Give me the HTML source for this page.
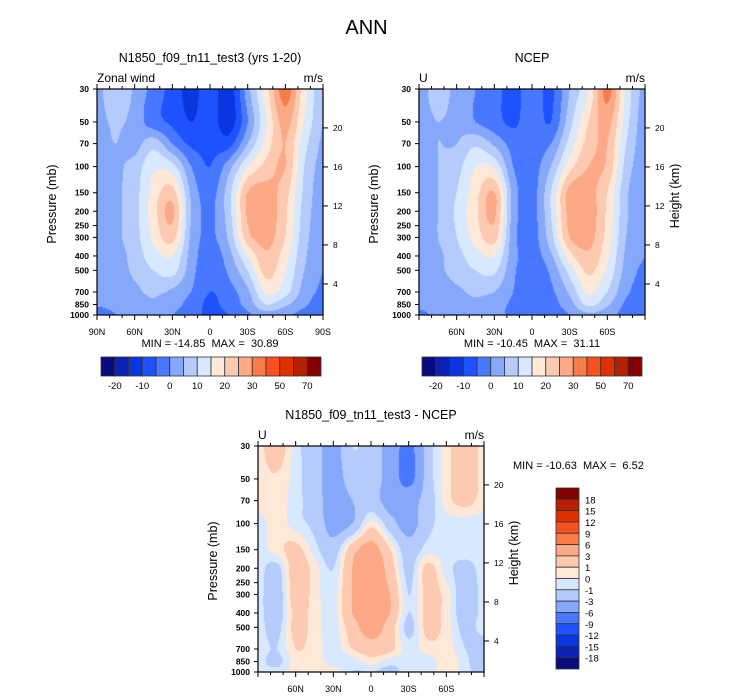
<!DOCTYPE html>
<html><head><meta charset="utf-8"><style>
body{margin:0;background:#fff;width:733px;height:696px;overflow:hidden;font-family:"Liberation Sans",sans-serif;}
#root{position:relative;width:733px;height:696px;}
.t{position:absolute;white-space:nowrap;color:#000;}
canvas{position:absolute;}
</style></head><body><div id="root">
<div class="t" style="left:0;width:733px;text-align:center;top:17px;font-size:20px;">ANN</div>
<svg id="ov" width="733" height="696" style="position:absolute;left:0;top:0;z-index:2"></svg>
</div>
<script>
// ---------- data ----------
const lats=["90N","75N","60N","45N","30N","15N","0","15S","30S","45S","60S","75S","90S"];
const pLevels=[30,50,70,100,150,200,300,400,500,700,850,1000];
const modelU=[
[3,10,4,-2,-7,-12,-7,-13,3,18,33,17,6],
[3,6,3,-3,-6,-10,-7,-13,0,15,27,15,5],
[3,5,3,8,0,-6,-6,-7,5,17,25,12,4],
[2,4,7,14,12,0,-5,3,15,22,25,10,3],
[2,4,8,17,22,4,-2,8,25,27,22,9,2],
[2,4,8,18,26,5,-1,8,26,28,21,8,2],
[2,4,8,16,22,4,-1,6,23,27,20,7,2],
[2,3,7,13,15,3,-3,3,15,24,17,6,1],
[2,3,6,10,12,2,-4,1,10,22,15,5,0],
[1,3,4,6,4,0,-5,-2,4,16,12,3,-1],
[1,2,3,4,2,-2,-6,-3,2,10,6,1,-3],
[-5,0,1,1,0,-3,-6,-5,-1,3,1,-2,-4]];
const ncepU=[
[4,6,4,0,-3,-7,-2,-6,5,15,32,14,3],
[4,5,4,0,-3,-6,-2,-5,8,20,27,12,2],
[4,5,5,9,4,-2,-2,0,12,22,25,10,2],
[3,5,8,15,14,0,-2,5,18,25,24,8,2],
[3,5,10,18,25,3,-2,10,27,27,20,6,1],
[3,5,11,19,26,3,-2,10,27,28,19,6,1],
[3,5,10,17,22,2,-2,8,25,27,18,5,0],
[3,4,8,13,15,2,-2,4,18,24,16,4,0],
[3,4,7,10,11,1,-3,1,12,21,14,3,-1],
[2,3,4,6,5,0,-3,-1,6,16,10,1,-2],
[1,2,3,4,2,-1,-4,-2,3,11,6,-1,-3],
[-1,1,2,2,1,-1,-4,-3,0,4,2,-2,-3]];
const diffU=[
[0.5,2,-0.5,-2,-4,-1,-2,-4,-7,-2,0.5,2,0.5],
[0.5,0.8,-0.5,-2,-4,-2,-2,-4,-7,-2,0.5,2,0.5],
[0.5,0.5,-0.5,-2,-4,-3,-2,-4,-4,-2,0.5,1.5,0.5],
[-0.5,0.5,-0.5,-1.5,-4,-3,0.5,-2,-4,-1.5,-0.5,-0.5,-0.5],
[-0.5,0.5,1.5,-0.5,-2,2,4,1,-2,-0.5,-0.5,-0.5,-0.5],
[-0.5,-1.5,2,0.5,-1,3,5,2,-1.5,1.5,-0.5,-1.5,-0.5],
[-0.5,-2,2,0.5,-0.5,3,4,3,-1,1.5,0.5,-2,-0.5],
[-0.5,-2,1.5,0.5,-0.5,3,4,3,-1,1.5,0.5,-2,-0.5],
[-0.5,-1.5,1.5,0.5,-0.5,2,4,2,-1.5,1.5,0.5,-1.5,-0.5],
[-0.5,-1,1,0.5,-0.5,1,2,1.5,-0.5,0.5,0.5,-1,-2],
[-0.5,-1.5,0.5,0.5,-0.5,-0.5,0.5,-0.5,-0.5,-0.5,0.5,-0.5,-3],
[-0.5,-0.5,0.5,0.5,0.5,-1,-1,-1.5,-0.5,-0.5,0.5,-0.5,-2]];
const levelsTop=[-20,-15,-10,-5,0,5,10,15,20,25,30,40,50,60,70];
const levelsDiff=[-18,-15,-12,-9,-6,-3,-1,0,1,3,6,9,12,15,18];
const cbarTopLabels=["-20","-10","0","10","20","30","50","70"];
const cbarDiffLabels=["18","15","12","9","6","3","1","0","-1","-3","-6","-9","-12","-15","-18"];
const heightTicks=[20,16,12,8,4];
const pressTickLabels=["30","50","70","100","150","200","250","300","400","500","700","850","1000"];
const palette=["#0a0a80","#0a22b8","#0a36e0","#1e52ff","#4878ff","#86a8fb","#b4cbfc","#d8e8fe","#fee8d8","#fdc9b0","#fba986","#fa7b4a","#fa5020","#e03000","#b52000","#870000"];
// ---------- helpers ----------
const NS="http://www.w3.org/2000/svg";
const ov=document.getElementById('ov');
const root=document.getElementById('root');
const lp0=Math.log(30),lp1=Math.log(1000);
function yOf(p,top,h){return top+(Math.log(p)-lp0)/(lp1-lp0)*h;}
function xOfLat(lat,left,w){return left+(90-lat)/180*w;}
function sv(tag,attrs){const e=document.createElementNS(NS,tag);for(const k in attrs)e.setAttribute(k,attrs[k]);ov.appendChild(e);return e;}
function txt(s,x,y,size,anchor,weight){const e=sv('text',{x:x,y:y,'font-size':size,'text-anchor':anchor||'middle','font-family':'Liberation Sans, sans-serif'});e.style.whiteSpace='pre';if(weight)e.setAttribute('font-weight',weight);e.textContent=s;return e;}
function cr(p0,p1,p2,p3,t){return 0.5*((2*p1)+(-p0+p2)*t+(2*p0-5*p1+4*p2-p3)*t*t+(-p0+3*p1-3*p2+p3)*t*t*t);}
function getv(field,j,i){j=Math.max(0,Math.min(field.length-1,j));i=Math.max(0,Math.min(field[0].length-1,i));return field[j][i];}
function sample(field,lat,p){
  const fx=(90-lat)/15; let i0=Math.max(0,Math.min(Math.floor(fx),lats.length-2)); const tx=fx-i0;
  const lp=Math.log(p); let j0=0;
  for(let j=0;j<pLevels.length-1;j++){if(lp>=Math.log(pLevels[j]))j0=j;}
  j0=Math.min(j0,pLevels.length-2);
  const a=Math.log(pLevels[j0]),b=Math.log(pLevels[j0+1]);
  const ty=Math.max(0,Math.min(1,(lp-a)/(b-a)));
  const rows=[];
  for(let dj=-1;dj<=2;dj++){const j=j0+dj;
    rows.push(cr(getv(field,j,i0-1),getv(field,j,i0),getv(field,j,i0+1),getv(field,j,i0+2),tx));}
  return cr(rows[0],rows[1],rows[2],rows[3],ty);
}
function bin(v,levels){let k=0;while(k<levels.length&&v>=levels[k])k++;return k;}
function drawField(field,levels,left,top,w,h,name){
  const c=document.createElement('canvas');c.width=w;c.height=h;c.style.left=left+'px';c.style.top=top+'px';
  
  
  root.appendChild(c);
  const ctx=c.getContext('2d');const step=1;
  for(let py=0;py<h;py+=step){
    const p=Math.exp(lp0+(py+0.5)/h*(lp1-lp0));
    for(let px=0;px<w;px+=step){
      const lat=90-(px+0.5)/w*180;
      ctx.fillStyle=palette[bin(sample(field,lat,p),levels)];
      ctx.fillRect(px,py,step,step);
    }
  }
}
function pOfHeight(z){return Math.exp((46.47-z)/6.609);}
function drawAxes(left,top,w,h,latLabels,showHeightTitle,cornerL,title,minmax,mmx,mmy,mmAnchor){
  const fr=sv('rect',{x:left,y:top,width:w,height:h,fill:'none',stroke:'#000','stroke-width':1.2});
  
  for(let lat=90;lat>=-90;lat-=10){
    const x=xOfLat(lat,left,w);const major=lat%30===0;const L=major?5:3;
    sv('line',{x1:x,y1:top,x2:x,y2:top-L,stroke:'#000','stroke-width':1});
    sv('line',{x1:x,y1:top+h,x2:x,y2:top+h+L,stroke:'#000','stroke-width':1});
  }
  latLabels.forEach(l=>{const lat=l==='0'?0:(l.endsWith('N')?+l.slice(0,-1):-l.slice(0,-1));
    const t=txt(l,xOfLat(lat,left,w),top+h+20,9);});
  pressTickLabels.forEach(s=>{const y=yOf(+s,top,h);
    sv('line',{x1:left,y1:y,x2:left-4,y2:y,stroke:'#000','stroke-width':1});
    const t=txt(s,left-8,y+3,8.5,'end','bold');});
  heightTicks.forEach(hk=>{const y=yOf(pOfHeight(hk),top,h);
    sv('line',{x1:left+w,y1:y,x2:left+w+5,y2:y,stroke:'#000','stroke-width':1});
    const t=txt(String(hk),left+w+10,y+3,8.5,'start');});
  const pt=txt('Pressure (mb)',0,0,12.5);pt.setAttribute('transform',`translate(${left-41},${top+h/2+2}) rotate(-90)`);
  
  if(showHeightTitle){const ht=txt('Height (km)',0,0,12.5);ht.setAttribute('transform',`translate(${left+w+34},${top+h/2-6}) rotate(-90)`);
    }
  const cl=txt(cornerL,left,top-7,12,'start');
  const cu=txt('m/s',left+w,top-7,12,'end');
  const tt=txt(title,left+w/2,top-27,12.5);
  const mm=txt(minmax,mmx,mmy,11,mmAnchor||'middle');
}
function hCbar(x,y,w,h){
  const bw=w/palette.length;
  palette.forEach((c,i)=>{const r=sv('rect',{x:x+i*bw,y:y,width:bw,height:h,fill:c,stroke:'#333','stroke-width':0.8});
    });
  cbarTopLabels.forEach((s,k)=>{const t=txt(s,x+bw*(1+2*k),y+h+13,9.5);});
}
function vCbar(x,y,w,h){
  const bh=h/palette.length;
  palette.slice().reverse().forEach((c,i)=>{const r=sv('rect',{x:x,y:y+i*bh,width:w,height:bh,fill:c,stroke:'#333','stroke-width':0.8});
    });
  cbarDiffLabels.forEach((s,k)=>{const t=txt(s,x+w+6,y+bh*(k+1)+4,9.5,'start');});
}
drawField(modelU,levelsTop,97,89,226,226,'model-contour-field');
drawField(ncepU,levelsTop,419,89,226,226,'ncep-contour-field');
drawField(diffU,levelsDiff,258,446,226,226,'difference-contour-field');
drawAxes(97,89,226,226,["90N","60N","30N","0","30S","60S","90S"],false,'Zonal wind','N1850_f09_tn11_test3 (yrs 1-20)','MIN = -14.85  MAX =  30.89',210,347);
drawAxes(419,89,226,226,["60N","30N","0","30S","60S"],true,'U','NCEP','MIN = -10.45  MAX =  31.11',532,347);
drawAxes(258,446,226,226,["60N","30N","0","30S","60S"],true,'U','N1850_f09_tn11_test3 - NCEP','MIN = -10.63  MAX =  6.52',513,469,'start');
hCbar(101,357,220,19);
hCbar(422,357,220,19);
vCbar(556,488,23,181);
</script></body></html>
